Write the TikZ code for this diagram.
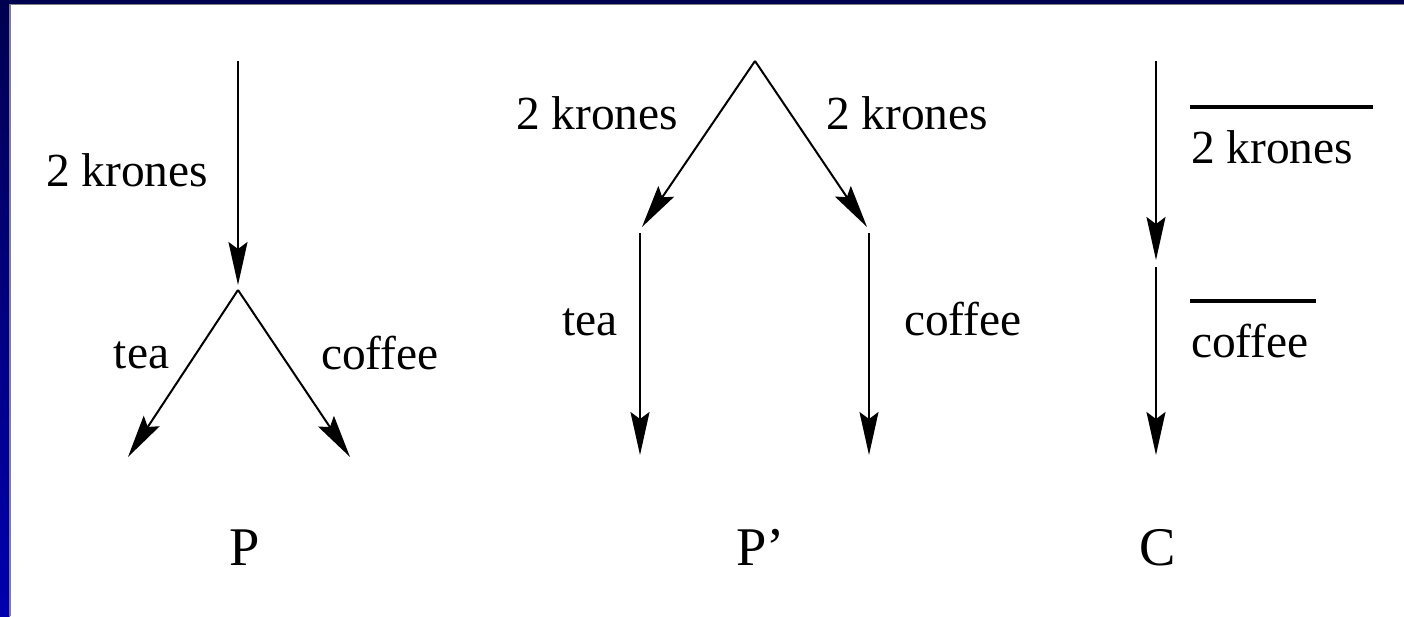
\documentclass[tikz,border=0pt]{standalone}
\usepackage{fontspec}
\setmainfont{Liberation Serif}
\usetikzlibrary{arrows.meta}
\definecolor{framedark}{RGB}{0,0,80}
\definecolor{framelight}{RGB}{0,0,175}
\begin{document}
\begin{tikzpicture}[>={Stealth[length=0.86cm,width=0.38cm,inset=0.14cm]},line width=0.04cm,
  lbl/.style={anchor=base west,inner sep=0pt,font=\fontsize{27}{32}\selectfont},
  ttl/.style={anchor=base west,inner sep=0pt,font=\fontsize{31}{37}\selectfont}]
\useasboundingbox (0,0) rectangle (28.08,12.32);
\fill[white] (0,0) rectangle (28.08,12.32);
\shade[top color=framedark,bottom color=framelight] (0,0) rectangle (0.19,12.32);
\fill[framedark] (0,12.24) rectangle (28.08,12.32);
\draw[gray,line width=0.02cm] (0.2,0) -- (0.2,12.23) -- (28.08,12.23);

% P
\coordinate (ptop) at (4.76,11.10);
\coordinate (papex) at (4.76,6.52);
\coordinate (ptea) at (2.56,3.18);
\coordinate (pcof) at (7.00,3.18);
\node[lbl] (pk) at (0.90,8.58) {2 krones};
\node[lbl] (pt) at (2.26,4.94) {tea};
\node[lbl] (pc) at (6.40,4.92) {coffee};
\node[ttl] (p) at (4.56,1.02) {P};

\draw[->,shorten >=0.1cm] (ptop) -- (papex);
\draw[->] (papex) -- (ptea);
\draw[->] (papex) -- (pcof);

% P'
\coordinate (qtop) at (15.10,11.10);
\coordinate (ql) at (12.84,7.78);
\coordinate (qr) at (17.34,7.78);
\coordinate (qltop) at (12.80,7.66);
\coordinate (qrtop) at (17.38,7.66);
\coordinate (qtea) at (12.80,3.22);
\coordinate (qcof) at (17.38,3.22);
\node[lbl] (qkl) at (10.30,9.72) {2 krones};
\node[lbl] (qkr) at (16.50,9.72) {2 krones};
\node[lbl] (qt) at (11.22,5.60) {tea};
\node[lbl] (qc) at (18.06,5.60) {coffee};
\node[ttl] (q) at (14.70,1.02) {P’};

\draw[->] (qtop) -- (ql);
\draw[->] (qtop) -- (qr);
\draw[->] (qltop) -- (qtea);
\draw[->] (qrtop) -- (qcof);

% C
\coordinate (ctop) at (23.12,11.10);
\coordinate (cmid) at (23.12,7.12);
\coordinate (cnext) at (23.12,6.98);
\coordinate (cend) at (23.12,3.22);
\coordinate (ckl) at (23.80,10.18);
\coordinate (ckr) at (27.46,10.18);
\coordinate (ccl) at (23.80,6.30);
\coordinate (ccr) at (26.32,6.30);
\node[lbl] (ck) at (23.80,9.04) {2 krones};
\node[lbl] (cc) at (23.80,5.16) {coffee};
\node[ttl] (c) at (22.76,1.02) {C};

\draw[->] (ctop) -- (cmid);
\draw[->] (cnext) -- (cend);
\draw[line width=0.066cm] (ckl) -- (ckr);
\draw[line width=0.066cm] (ccl) -- (ccr);
\end{tikzpicture}
\end{document}
